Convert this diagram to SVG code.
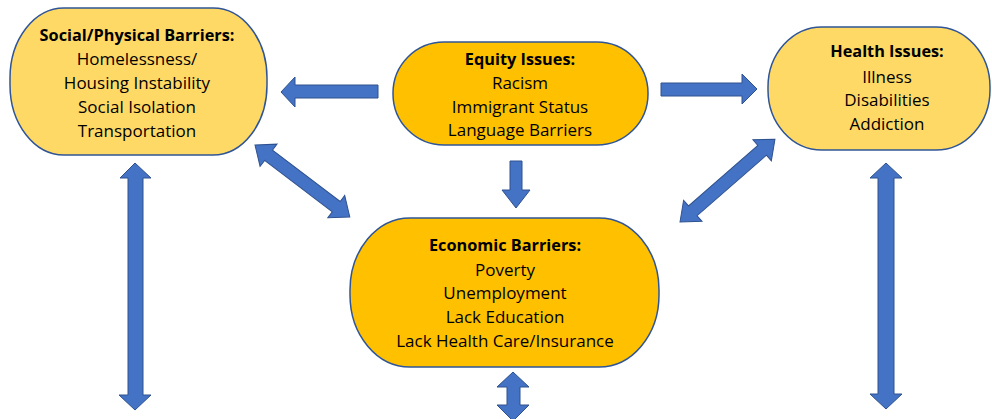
<svg xmlns="http://www.w3.org/2000/svg" width="992" height="419" viewBox="0 0 992 419">
<style>
.light{fill:#FFD966;stroke:#2F5597;stroke-width:1.5}
.dark{fill:#FFC000;stroke:#2F5597;stroke-width:1.5}
.arr{fill:#4472C4;stroke:#2F528F;stroke-width:1}
text{font-family:"Open Sans","Noto Sans",Lato,sans-serif;font-size:17px;fill:#000;text-anchor:middle}
.t{font-weight:bold;font-size:16.3px}
</style>
<rect width="992" height="419" fill="#fff"/>
<g id="connectors">
<polygon class="arr" points="281,92 295,77 295,85 378,85 378,98 295,98 295,107"/>
<polygon class="arr" points="757,89 742,74 742,83 661,83 661,96 742,96 742,104"/>
<polygon class="arr" points="516,208 502,190 510,190 510,161 522,161 522,190 530,190"/>
<polygon class="arr" transform="translate(255,145) rotate(37.2)" points="0,0 17,-14 17,-6.5 102,-6.5 102,-14 119,0 102,14 102,6.5 17,6.5 17,14"/>
<polygon class="arr" transform="translate(680,222) rotate(-41.1)" points="0,0 17,-14 17,-6.5 109,-6.5 109,-14 126,0 109,14 109,6.5 17,6.5 17,14"/>
<polygon class="arr" points="135,163 151,178 143,178 143,395 151,395 135,410 119,395 128,395 128,178 120,178"/>
<polygon class="arr" points="886,163 902,178 894,178 894,394 902,394 886,409 870,394 878,394 878,178 870,178"/>
<polygon class="arr" points="513,372 529,387 520,387 520,405 529,405 513,421 497,405 507,405 507,387 497,387"/>
</g>
<g id="social">
<rect class="light" x="10" y="8" width="257" height="147" rx="54" ry="70"/>
<text class="t" x="137" y="41">Social/Physical Barriers:</text>
<text x="137" y="65">Homelessness/</text>
<text x="137" y="89">Housing Instability</text>
<text x="137" y="113">Social Isolation</text>
<text x="137" y="137">Transportation</text>
</g>
<g id="equity">
<rect class="dark" x="393" y="42" width="255" height="103" rx="51" ry="51"/>
<text class="t" x="520" y="65">Equity Issues:</text>
<text x="520" y="89">Racism</text>
<text x="520" y="113">Immigrant Status</text>
<text x="520" y="136">Language Barriers</text>
</g>
<g id="health">
<rect class="light" x="768" y="27" width="222" height="123" rx="54" ry="60"/>
<text class="t" x="887" y="57">Health Issues:</text>
<text x="887" y="83">Illness</text>
<text x="887" y="106">Disabilities</text>
<text x="887" y="130">Addiction</text>
</g>
<g id="economic">
<rect class="dark" x="350" y="218" width="309" height="149" rx="60" ry="72"/>
<text class="t" x="505" y="251">Economic Barriers:</text>
<text x="505" y="276">Poverty</text>
<text x="505" y="299">Unemployment</text>
<text x="505" y="323">Lack Education</text>
<text x="505" y="347">Lack Health Care/Insurance</text>
</g>
</svg>
